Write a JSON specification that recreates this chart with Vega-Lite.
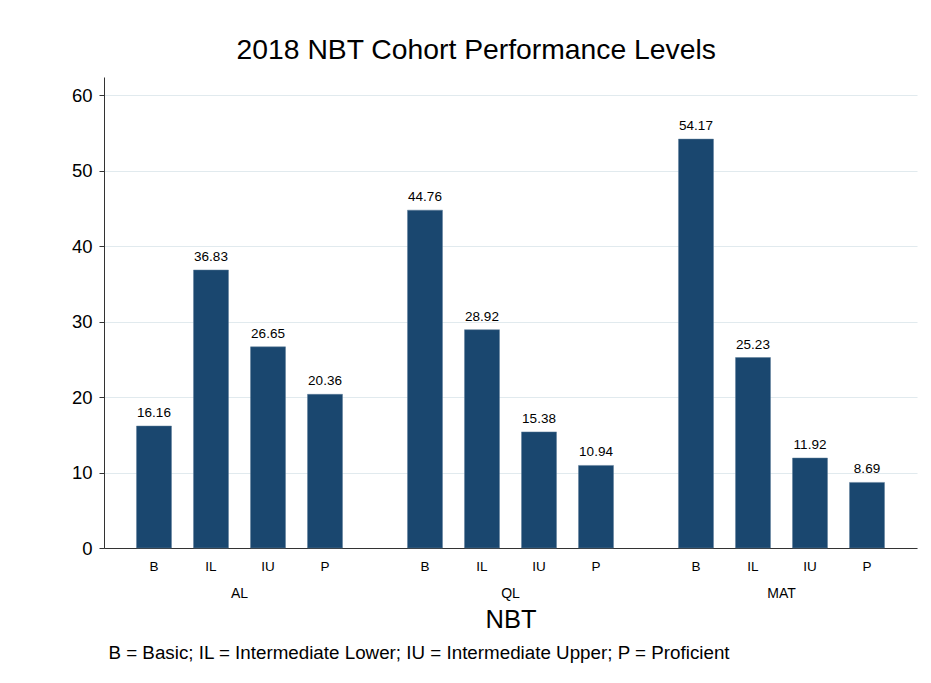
{
  "$schema": "https://vega.github.io/schema/vega-lite/v6.json",
  "background": "white",
  "padding": {"left": 71, "top": 35, "right": 12, "bottom": 10},
  "title": {"text": "2018 NBT Cohort Performance Levels", "fontSize": 28.3, "font": "Liberation Sans", "fontWeight": "normal", "anchor": "middle", "frame": "bounds", "offset": 12, "dx": -18, "color": "black"},
  "config": {"view": {"stroke": null}, "font": "Liberation Sans", "concat": {"spacing": 0}},
  "data": {"values": [
    {"test": "AL", "level": "B", "value": 16.16},
    {"test": "AL", "level": "IL", "value": 36.83},
    {"test": "AL", "level": "IU", "value": 26.65},
    {"test": "AL", "level": "P", "value": 20.36},
    {"test": "QL", "level": "B", "value": 44.76},
    {"test": "QL", "level": "IL", "value": 28.92},
    {"test": "QL", "level": "IU", "value": 15.38},
    {"test": "QL", "level": "P", "value": 10.94},
    {"test": "MAT", "level": "B", "value": 54.17},
    {"test": "MAT", "level": "IL", "value": 25.23},
    {"test": "MAT", "level": "IU", "value": 11.92},
    {"test": "MAT", "level": "P", "value": 8.69}
  ]},
  "vconcat": [{
    "width": 813,
    "height": 471,
    "title": {"text": "B = Basic; IL = Intermediate Lower; IU = Intermediate Upper; P = Proficient", "orient": "bottom", "anchor": "start", "fontSize": 18.8, "fontWeight": "normal", "color": "black", "offset": 11, "dx": 37},
    "encoding": {
      "x": {"field": "test", "type": "nominal", "sort": ["AL", "QL", "MAT"], "title": "NBT",
        "scale": {"paddingInner": 0, "paddingOuter": 0},
        "axis": {"labelAngle": 0, "ticks": false, "tickSize": 0, "labelPadding": 38, "labelFontSize": 14, "labelColor": "black", "domainColor": "#333333", "titleFontSize": 25.5, "titleFontWeight": "normal", "titleColor": "black", "titlePadding": 7}},
      "xOffset": {"field": "level", "type": "nominal", "sort": ["B", "IL", "IU", "P"], "scale": {"paddingInner": 0.386, "paddingOuter": 0.57}}
    },
    "layer": [
      {
        "mark": {"type": "bar", "color": "#1a476f", "stroke": "#5d7d99", "strokeWidth": 0.5},
        "encoding": {
          "y": {"field": "value", "type": "quantitative", "title": null,
            "scale": {"domain": [0, 62.4], "nice": false, "zero": true},
            "axis": {"values": [0, 10, 20, 30, 40, 50, 60], "grid": true, "gridColor": "#e1eaee", "gridWidth": 1.2, "tickSize": 5, "tickColor": "#333333", "domainColor": "#333333", "labelFontSize": 18.5, "labelColor": "black", "labelPadding": 7}}
        }
      },
      {
        "mark": {"type": "text", "baseline": "bottom", "dy": -6, "fontSize": 13.5, "color": "black"},
        "encoding": {
          "y": {"field": "value", "type": "quantitative"},
          "text": {"field": "value", "type": "quantitative", "format": ".2f"}
        }
      },
      {
        "mark": {"type": "text", "baseline": "middle", "dy": 19, "fontSize": 13.5, "color": "black"},
        "encoding": {
          "y": {"datum": 0},
          "text": {"field": "level", "type": "nominal"}
        }
      }
    ]
  }]
}
